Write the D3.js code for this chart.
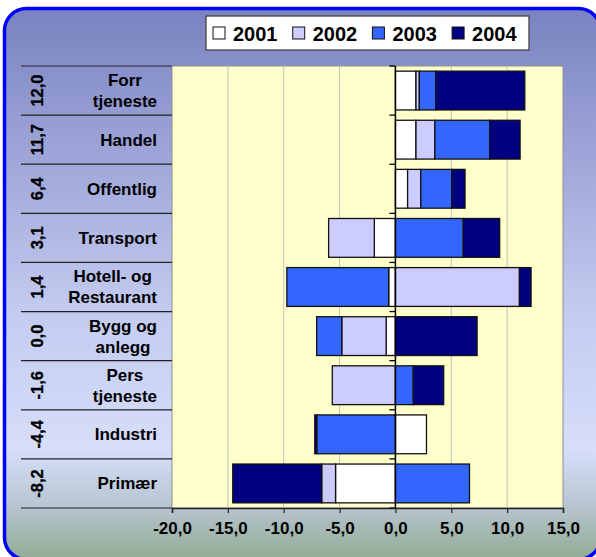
<!DOCTYPE html>
<html>
<head>
<meta charset="utf-8">
<script src="https://cdn.jsdelivr.net/npm/d3@7"></script>
<style>
  body { margin: 0; background: #fff; }
  text { font-family: "Liberation Sans", Arial, sans-serif; font-weight: bold; fill: #000; }
</style>
</head>
<body>
<script>
// data, top row first
var categories = ["Forr\ntjeneste", "Handel", "Offentlig", "Transport", "Hotell- og\nRestaurant",
                  "Bygg og\nanlegg", "Pers\ntjeneste", "Industri", "Primær"];
var totals = [12.0, 11.7, 6.4, 3.1, 1.4, 0.0, -1.6, -4.4, -8.2];
var years = ["2001", "2002", "2003", "2004"];
var v2001 = [1.84, 1.84, 1.09, -1.89, -0.60, -0.83, 0.00, 2.78, -5.36];
var v2002 = [0.30, 1.69, 1.18, -4.09, 11.10, -3.97, -5.65, 0.00, -1.24];
var v2003 = [1.48, 4.91, 2.78, 6.07, -9.12, -2.25, 1.60, -7.04, 6.63];
var v2004 = [7.96, 2.72, 1.18, 3.26, 1.04, 7.31, 2.72, -0.18, -7.96];
var xTicks = [-20, -15, -10, -5, 0, 5, 10, 15];
var colors = ["#ffffff", "#ccccff", "#3366ff", "#000080"];

var W = 596, H = 557;
var margin = {top: 66, right: 33, bottom: 49, left: 172};
var width = W - margin.left - margin.right,
    height = H - margin.top - margin.bottom;

var svg = d3.select("body").append("svg")
    .attr("width", W)
    .attr("height", H);

// background frame with gradient (runs a bit past the right and bottom edge)
var grad = svg.append("defs").append("linearGradient")
    .attr("id", "bg").attr("x1", 0).attr("y1", 0).attr("x2", 0).attr("y2", 1);
[[0, "#7a82c0"], [0.2, "#959dd3"], [0.55, "#c3cbf0"], [0.8, "#d6defa"], [0.9, "#b8c6d2"], [1, "#92aa92"]]
  .forEach(function(s) { grad.append("stop").attr("offset", s[0]).attr("stop-color", s[1]); });

svg.append("rect")
    .attr("x", 4.5).attr("y", 8.5)
    .attr("width", 596).attr("height", 551)
    .attr("rx", 22).attr("ry", 22)
    .attr("fill", "url(#bg)")
    .attr("stroke", "#0000ff")
    .attr("stroke-width", 3.5);

var g = svg.append("g")
    .attr("transform", "translate(" + margin.left + "," + margin.top + ")");

var x = d3.scaleLinear().domain([-20, 15]).range([0, width]);
var y = d3.scaleBand().domain(d3.range(categories.length)).range([0, height])
    .paddingInner(0.21).paddingOuter(0.105);
var step = y.step();

// plot area
g.append("rect")
    .attr("width", width).attr("height", height)
    .attr("fill", "#ffffcc")
    .attr("stroke", "#909090");

// gridlines
g.selectAll(".grid")
    .data(xTicks.filter(function(t) { return t > -20 && t < 15 && t != 0; }))
    .enter().append("line")
    .attr("x1", function(d) { return x(d); })
    .attr("x2", function(d) { return x(d); })
    .attr("y1", 0).attr("y2", height)
    .attr("stroke", "#c0c0c0");

// left label table lines
var labelLeft = 21 - margin.left;
g.selectAll(".rowline")
    .data(d3.range(categories.length + 1))
    .enter().append("line")
    .attr("x1", labelLeft).attr("x2", 0)
    .attr("y1", function(d) { return d * step; })
    .attr("y2", function(d) { return d * step; })
    .attr("stroke", "#222")
    .attr("stroke-width", 1.2);

// stacked bars
var rows = categories.map(function(c, i) {
  return {i: i, "2001": v2001[i], "2002": v2002[i], "2003": v2003[i], "2004": v2004[i]};
});
var stack = d3.stack().keys(years).offset(d3.stackOffsetDiverging);
var series = stack(rows);

g.selectAll(".series")
    .data(series)
    .enter().append("g")
    .attr("fill", function(d, i) { return colors[i]; })
    .selectAll("rect")
    .data(function(d) { return d.filter(function(p) { return p[1] - p[0] !== 0; }); })
    .enter().append("rect")
    .attr("x", function(d) { return x(Math.min(d[0], d[1])); })
    .attr("width", function(d) { return Math.abs(x(d[1]) - x(d[0])); })
    .attr("y", function(d) { return y(d.data.i); })
    .attr("height", y.bandwidth())
    .attr("stroke", "#111")
    .attr("stroke-width", 1.3);

// vertical axis at zero with ticks
g.append("line")
    .attr("x1", x(0)).attr("x2", x(0))
    .attr("y1", 0).attr("y2", height)
    .attr("stroke", "#000").attr("stroke-width", 1.5);
g.selectAll(".ytick")
    .data(d3.range(categories.length + 1))
    .enter().append("line")
    .attr("x1", x(0) - 6).attr("x2", x(0))
    .attr("y1", function(d) { return d * step; })
    .attr("y2", function(d) { return d * step; })
    .attr("stroke", "#000").attr("stroke-width", 1.3);

// bottom axis
var xAxis = g.append("g")
    .attr("transform", "translate(0," + height + ")")
    .call(d3.axisBottom(x).tickValues(xTicks).tickSize(5).tickPadding(9)
      .tickFormat(function(d) { return d3.format(".1f")(d).replace(".", ",").replace("−", "-"); }));
xAxis.select(".domain").attr("stroke", "#222").attr("stroke-width", 1.5);
xAxis.selectAll(".tick line").attr("stroke", "#222").attr("stroke-width", 1.2);
xAxis.selectAll(".tick text")
    .style("font-size", "17px")
    .style("font-family", "'Liberation Sans', Arial, sans-serif")
    .style("font-weight", "bold")
    .attr("fill", "#000");

// category labels: lines centred in a block that is right aligned
categories.forEach(function(c, i) {
  var lines = c.split("\n");
  var cy = i * step + step / 2;
  var t = g.append("text")
      .style("font-size", "17px")
      .attr("text-anchor", "middle");
  lines.forEach(function(l, k) {
    t.append("tspan")
      .attr("y", cy + (k - (lines.length - 1) / 2) * 21)
      .attr("dy", "0.35em")
      .text(l);
  });
  var maxW = 0;
  t.selectAll("tspan").each(function() { maxW = Math.max(maxW, this.getComputedTextLength()); });
  t.selectAll("tspan").attr("x", -15 - maxW / 2);
});

// net values, rotated
g.selectAll(".total")
    .data(totals)
    .enter().append("text")
    .attr("transform", function(d, i) {
      return "translate(" + (37 - margin.left) + "," + (i * step + step / 2) + ") rotate(-90)";
    })
    .attr("text-anchor", "middle")
    .attr("dy", "0.35em")
    .style("font-size", "16.5px")
    .style("font-weight", "700")
    .attr("stroke", "#000").attr("stroke-width", 0.3)
    .text(function(d) { return d3.format(".1f")(d).replace(".", ",").replace("−", "-"); });

// legend
var legend = svg.append("g");
legend.append("rect")
    .attr("x", 206).attr("y", 16)
    .attr("width", 323).attr("height", 34)
    .attr("fill", "#fff")
    .attr("stroke", "#444").attr("stroke-width", 1.3);
var items = legend.selectAll(".item")
    .data(years)
    .enter().append("g")
    .attr("transform", function(d, i) { return "translate(" + (213 + i * 79.7) + ",0)"; });
items.append("rect")
    .attr("x", 0).attr("y", 27)
    .attr("width", 12).attr("height", 12)
    .attr("fill", function(d, i) { return colors[i]; })
    .attr("stroke", "#111").attr("stroke-width", 1);
items.append("text")
    .attr("x", 20).attr("y", 40.5)
    .style("font-size", "20px")
    .text(function(d) { return d; });
</script>
</body>
</html>
